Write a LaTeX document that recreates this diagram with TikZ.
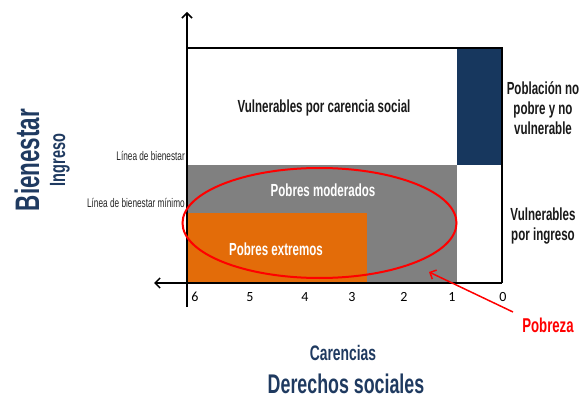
\documentclass[tikz,border=0pt]{standalone}
\usepackage{fontspec}
\usetikzlibrary{arrows.meta}
\newfontfamily\cond[FakeStretch=0.66]{Liberation Sans}
\newfontfamily\numfont{Carlito}
\definecolor{navy}{HTML}{17375E}
\definecolor{txtnavy}{HTML}{1F3A60}
\definecolor{grayreg}{HTML}{808080}
\definecolor{orangereg}{HTML}{E36C09}
\begin{document}
\begin{tikzpicture}[x=1pt,y=-1pt,
  axis/.style={line width=1.5pt,-{Straight Barb[length=5pt,width=10pt,line width=1.5pt]}},
  lbl/.style={font=\cond\bfseries\fontsize{17.5}{20}\selectfont, inner sep=0pt, align=center},
  wlbl/.style={lbl, text=white},
  small/.style={font=\cond\fontsize{12.5}{14}\selectfont, text=black!85, inner sep=0pt, anchor=east},
  tick/.style={font=\numfont\fontsize{14}{16}\selectfont, inner sep=0pt}]
\useasboundingbox (0,0) rectangle (586,398);
% regions
\fill[grayreg] (187,165) rectangle (457,283);
\fill[orangereg] (187,213) rectangle (367,283);
\fill[navy] (457,48) rectangle (502,165);
% box
\draw[line width=1.5pt] (187,48) -- (502,48) -- (502,283);
% axes
\coordinate (vbot) at (187,307);
\coordinate (vtop) at (187,12);
\coordinate (hr) at (502,283);
\coordinate (hl) at (154,283);
\draw[axis] (vbot) -- (vtop);
\draw[axis] (hr) -- (hl);
% ellipse
\draw[red, line width=2pt] (319.5,223) ellipse [x radius=137, y radius=55];
% labels
\node[lbl, text=black!90] (vcs) at (324,108) {Vulnerables por carencia social};
\node[wlbl] (pm) at (323,190) {Pobres moderados};
\node[wlbl] (pe) at (276,249) {Pobres extremos};
\node[lbl, text=black!90] (pnp) at (543,108) {Población no\\pobre y no\\vulnerable};
\node[lbl, text=black!90] (vpi) at (543,226) {Vulnerables\\por ingreso};
\node[small] (lb) at (185,156) {Línea de bienestar};
\node[small] (lbm) at (185,203) {Línea de bienestar mínimo};
% ticks
\node[tick] (t6) at (195,297) {6};
\node[tick] (t5) at (250,297) {5};
\node[tick] (t4) at (305,297) {4};
\node[tick] (t3) at (352,297) {3};
\node[tick] (t2) at (404,297) {2};
\node[tick] (t1) at (452,297) {1};
\node[tick] (t0) at (503,297) {0};
% pobreza
\node[lbl, text=red, font=\cond\bfseries\fontsize{20}{24}\selectfont] (pob) at (548,325) {Pobreza};
\coordinate (ptip) at (429,272);
\draw[red, line width=1.5pt, -{Straight Barb[length=5pt,width=10pt,line width=1.5pt]}] (513,312) -- (ptip);
% axis titles
\node[lbl, text=txtnavy, font=\cond\bfseries\fontsize{21}{24}\selectfont] (car) at (343,353) {Carencias};
\node[lbl, text=txtnavy, font=\cond\bfseries\fontsize{27}{30}\selectfont] (der) at (346,384) {Derechos sociales};
\node[lbl, text=txtnavy, rotate=90, font=\cond\bfseries\fontsize{34}{38}\selectfont] (bien) at (27,160) {Bienestar};
\node[lbl, text=txtnavy, rotate=90, font=\cond\bfseries\fontsize{22}{26}\selectfont] (ing) at (60,160) {Ingreso};
\end{tikzpicture}
\end{document}
